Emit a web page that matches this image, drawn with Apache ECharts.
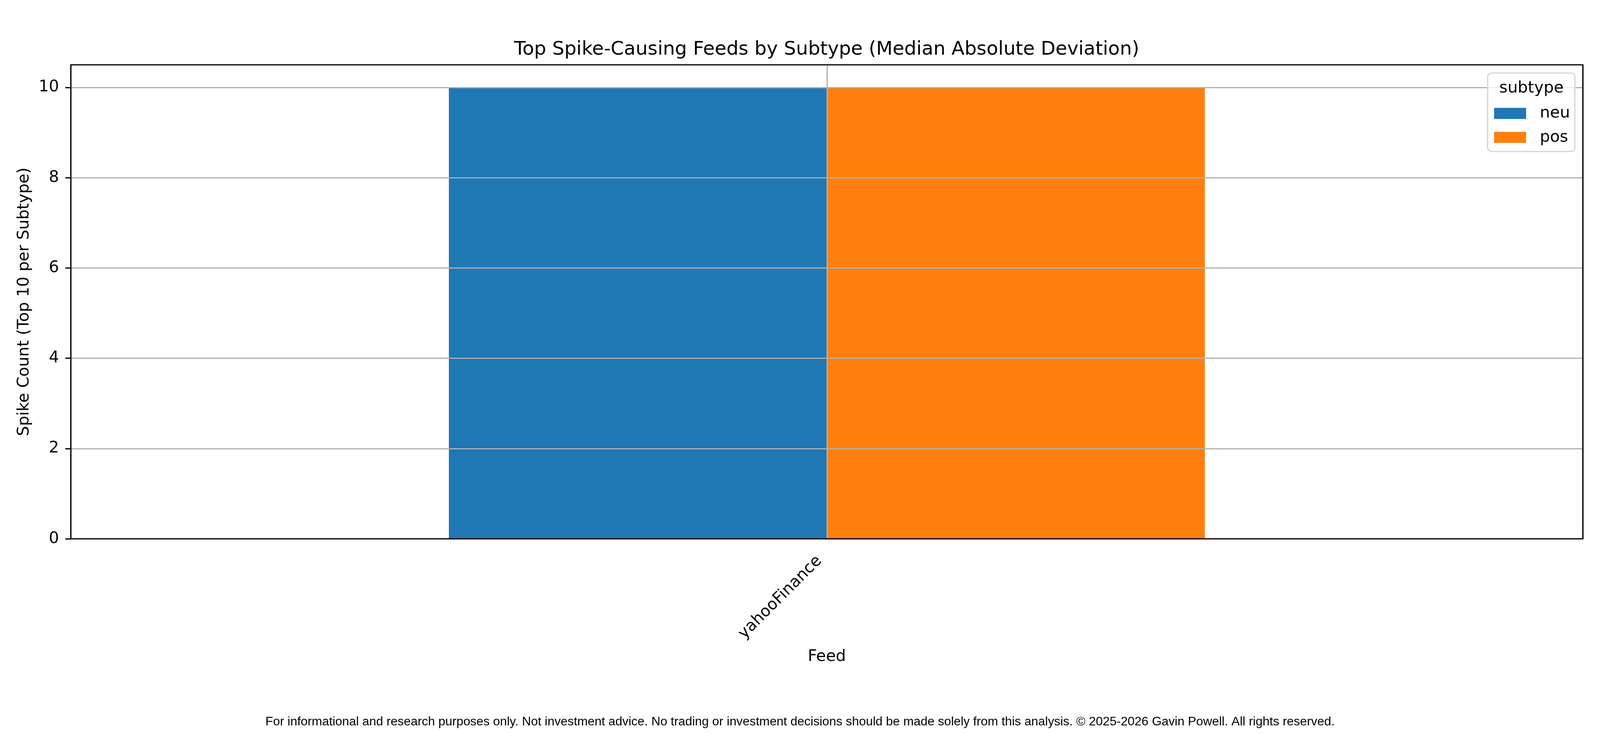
<!DOCTYPE html>
<html>
<head>
<meta charset="utf-8">
<script src="https://cdn.jsdelivr.net/npm/echarts@6/dist/echarts.min.js"></script>
<style>
  html, body { margin: 0; padding: 0; background: #fff; overflow: hidden; }
  #main { width: 100vw; height: 100vh; }
</style>
</head>
<body>
<div id="main"></div>
<script>
// data
var feeds = ['yahooFinance'];
var subtypes = ['neu', 'pos'];
var neuCounts = [10];
var posCounts = [10];
var yTicks = [0, 2, 4, 6, 8, 10];

// layout was measured on a 4200x1880 picture, scale it to the real viewport
var W = window.innerWidth || 4200;
var H = window.innerHeight || 1880;
var sx = W / 4200, sy = H / 1880, s = Math.min(sx, sy);
function X(v) { return v * sx; }
function Y(v) { return v * sy; }
function S(v) { return v * s; }

var myChart = echarts.init(document.getElementById('main'));

var font = 'DejaVu Sans';
var lw = S(3.33);

option = {
    backgroundColor: '#ffffff',
    animation: false,
    color: ['#1f77b4', '#ff7f0e'],
    grid: {
        left: X(186),
        right: X(45),
        top: Y(166),
        bottom: Y(500),
        show: true,
        borderColor: '#000',
        borderWidth: lw,
        backgroundColor: 'transparent',
        z: 6
    },
    graphic: [
        {
            type: 'text', x: X(2170), y: Y(127), z: 20,
            style: {
                text: 'Top Spike-Causing Feeds by Subtype (Median Absolute Deviation)',
                font: S(50) + 'px "DejaVu Sans"', fill: '#000',
                textAlign: 'center', textVerticalAlign: 'middle'
            }
        },
        {
            type: 'rect', z: 10,
            shape: { x: X(3905), y: Y(187), width: X(229), height: Y(201), r: S(10) },
            style: { fill: 'rgba(255,255,255,0.8)', stroke: '#d6d6d6', lineWidth: lw }
        },
        {
            type: 'text', x: X(4020), y: Y(226), z: 20,
            style: {
                text: 'subtype', font: S(42) + 'px "DejaVu Sans"', fill: '#000',
                textAlign: 'center', textVerticalAlign: 'middle'
            }
        },
        {
            type: 'text', x: X(2100), y: Y(1849), z: 20,
            style: {
                text: 'For informational and research purposes only. Not investment advice. No trading or investment decisions should be made solely from this analysis. \u00a9 2025-2026 Gavin Powell. All rights reserved.',
                font: S(32.7) + 'px "Liberation Sans"', fill: '#000',
                textAlign: 'center', textVerticalAlign: 'middle'
            }
        }
    ],
    legend: {
        data: subtypes,
        orient: 'vertical',
        left: X(3922),
        top: Y(270),
        padding: 0,
        icon: 'rect',
        itemWidth: S(84),
        itemHeight: S(29),
        itemGap: S(21),
        z: 20,
        textStyle: {
            fontFamily: font,
            fontSize: S(42),
            color: '#000',
            padding: [0, 0, 0, S(31)]
        }
    },
    xAxis: [
        {
            type: 'category',
            data: feeds,
            name: 'Feed',
            nameLocation: 'middle',
            nameGap: Y(282),
            nameTextStyle: { fontFamily: font, fontSize: S(42), color: '#000' },
            axisLine: { show: false, onZero: false },
            axisTick: { alignWithLabel: true, length: S(14.6), lineStyle: { color: '#000', width: lw } },
            axisLabel: {
                rotate: 45, margin: S(32), fontFamily: font, fontSize: S(42), color: '#000',
                padding: [0, S(28), 0, 0]
            },
            splitLine: { show: false },
            z: 5
        },
        {
            // hidden helper axis: only gives the vertical grid line at the category centre
            type: 'value',
            min: -0.5,
            max: 0.5,
            interval: 0.5,
            position: 'bottom',
            axisLine: { show: false, onZero: false },
            axisTick: { show: false },
            axisLabel: { show: false },
            splitLine: { show: true, lineStyle: { color: '#b0b0b0', width: lw } },
            z: 5
        }
    ],
    yAxis: {
        type: 'value',
        min: 0,
        max: 10.5,
        interval: 2,
        name: 'Spike Count (Top 10 per Subtype)',
        nameLocation: 'middle',
        nameGap: X(101),
        nameTextStyle: { fontFamily: font, fontSize: S(42), color: '#000' },
        axisLine: { show: false, onZero: false },
        axisTick: {
            show: true, customValues: yTicks, length: S(14.6),
            lineStyle: { color: '#000', width: lw }
        },
        axisLabel: {
            customValues: yTicks,
            margin: X(31), fontFamily: font, fontSize: S(42), color: '#000',
            formatter: function (v) { return yTicks.indexOf(v) >= 0 ? String(v) : ''; }
        },
        splitLine: { show: true, lineStyle: { color: '#b0b0b0', width: lw } },
        z: 5
    },
    series: [
        {
            name: subtypes[0],
            type: 'bar',
            data: neuCounts,
            barWidth: '25%',
            barGap: '0%',
            z: 2
        },
        {
            name: subtypes[1],
            type: 'bar',
            data: posCounts,
            barWidth: '25%',
            barGap: '0%',
            z: 2
        }
    ]
};
myChart.setOption(option);
</script>
</body>
</html>
